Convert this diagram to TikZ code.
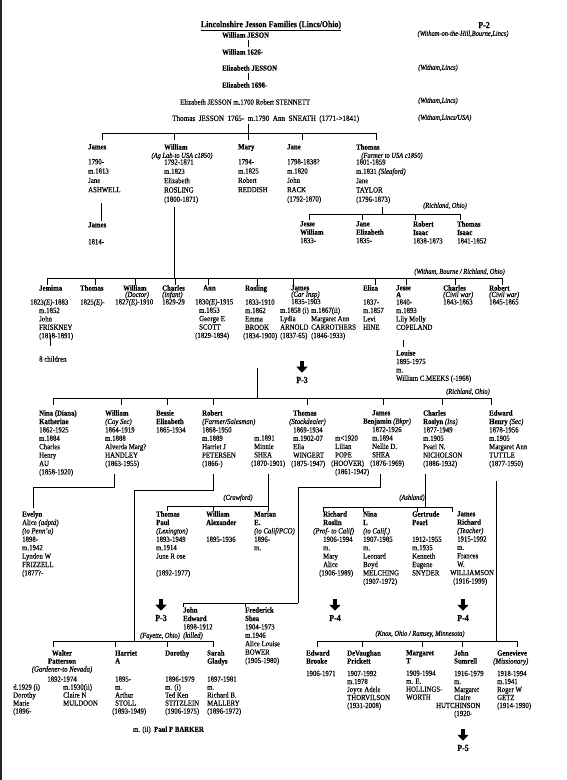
\documentclass[tikz,border=0pt]{standalone}
\usepackage{fontspec}
\setmainfont{Liberation Serif}[FakeStretch=0.87,FakeBold=0.25]
\usetikzlibrary{arrows.meta}

\begin{document}
\begin{tikzpicture}[x=1pt,y=-1pt,
  wire/.style={draw=black,line width=1pt},
  pers/.style={anchor=north west,inner sep=0pt,align=left,font=\fontsize{7.8}{8.4}\selectfont},
  perst/.style={pers,font=\fontsize{7.8}{9.3}\selectfont},
  persb/.style={pers,font=\fontsize{7.8}{8}\selectfont},
  oneline/.style={anchor=west,inner sep=0pt,font=\fontsize{7.8}{8.4}\selectfont},
  plc/.style={inner sep=0pt,font=\fontsize{7.4}{8}\selectfont\itshape},
  pref/.style={inner sep=0pt,font=\fontsize{9.2}{9}\selectfont\bfseries},
  darr/.style={line width=4.8pt,-{Triangle[width=11pt,length=6pt]}}
]
\useasboundingbox (0,0) rectangle (567,780);
\draw[line width=2pt,black!85] (1,0) -- (1,780);

% head of the page: the early generations
\node[pref,font=\fontsize{9}{9}\selectfont\bfseries] (title) at (271,26) {\underline{Lincolnshire Jesson Families (Lincs/Ohio)}};
\node[pref] (pg) at (484,25) {P-2};
\node[plc] (home) at (463,34) {(Witham-on-the-Hill,Bourne,Lincs)};
\node[oneline] (g1) at (222,35) {\textbf{William JESON}};
\node[oneline] (g2) at (222,52) {\textbf{William 1626-}};
\node[oneline] (g3) at (222,68) {\textbf{Elizabeth JESSON}};
\node[oneline] (g4) at (222,85) {\textbf{Elizabeth 1698-}};
\node[oneline] (g5) at (180,102) {Elizabeth JESSON m.1700 Robert STENNETT};
\node[oneline,font=\fontsize{8.2}{9}\selectfont] (g6) at (172,119) {\spaceskip=3.5pt Thomas JESSON 1765- m.1790 Ann SNEATH (1771->1841)};
\node[plc,anchor=west] (w3) at (418,68) {(Witham,Lincs)};
\node[plc,anchor=west] (w5) at (418,101) {(Witham,Lincs)};
\node[plc,anchor=west] (w6) at (418,118) {(Witham,Lincs/USA)};
\draw[wire,shorten <=2pt,shorten >=2pt] ([xshift=26pt]g1.south west) -- ([xshift=26pt]g2.north west);
\draw[wire,shorten <=2pt,shorten >=2pt] ([xshift=26pt]g3.south west) -- ([xshift=26pt]g4.north west);
\draw[wire,shorten <=1pt] ([xshift=76pt]g6.south west) -- (248,133);
\draw[wire] (102,133) -- (376,133);
\foreach \x in {102,174,248,302,376} \draw[wire] (\x,133) -- ++(0,7);

% children of Thomas and Ann
\node[perst] (james) at (88,144) {\textbf{James}\\[5.7pt]1790-\\m.1813\\Jane\\ASHWELL};
\node[perst] (william) at (164,144) {\textbf{William}\\[5.7pt]1792-1871\\m.1823\\Elizabeth\\ROSLING\\(1800-1871)};
\node[plc] (wjob) at (182,156) {(Ag Lab-to USA c1850)};
\node[perst] (mary) at (238,144) {\textbf{Mary}\\[5.7pt]1794-\\m.1825\\Robert\\REDDISH};
\node[perst] (jane) at (287,144) {\textbf{Jane}\\[5.7pt]1798-1838?\\m.1820\\John\\RACK\\(1792-1870)};
\node[perst] (thomas) at (356,144) {\textbf{Thomas}\\[5.7pt]1801-1859\\m.1831 \textit{(Sleaford)}\\Jane\\TAYLOR\\(1796-1873)};
\node[plc] (tjob) at (392,156) {(Farmer to USA c1850)};
\node[pers] (jamesjr) at (88,222) {\textbf{James}\\[8.6pt]1814-};
\draw[wire,shorten <=10pt,shorten >=1pt] ([xshift=13pt]james.south west) -- ([xshift=13pt]jamesjr.north west);
\draw[wire,shorten <=3pt] ([xshift=10pt]william.south west) -- (174,278);

% Thomas and Jane TAYLOR, Richland
\draw[wire,shorten <=3pt] ([xshift=26pt]thomas.south west) -- (382,214);
\draw[wire] (309,214) -- (460,214);
\foreach \x in {309,362,415,460} \draw[wire] (\x,214) -- ++(0,6);
\node[plc,anchor=east] (rich1) at (467,206) {(Richland, Ohio)};
\node[pers] (jessew) at (300,221) {\textbf{Jesse}\\\textbf{William}\\1833-};
\node[pers] (janee) at (356,221) {\textbf{Jane}\\\textbf{Elizabeth}\\1835-};
\node[pers] (roberti) at (413,221) {\textbf{Robert}\\\textbf{Isaac}\\1838-1873};
\node[pers] (thomasi) at (457,221) {\textbf{Thomas}\\\textbf{Isaac}\\1841-1852};

% children of William and Elizabeth ROSLING
\draw[wire] (47,278) -- (502,278);
\foreach \x in {47,95,135,175,208,257,293,375,406,455,502} \draw[wire] (\x,278) -- ++(0,7);
\node[plc,anchor=east] (rich2) at (505,272) {(Witham, Bourne / Richland, Ohio)};
\node[pers] (jemima) at (39,285) {\textbf{Jemima}\\[5.6pt]\hspace*{-9pt}1823\textit{(E)}-1883\\m.1852\\John\\FRISKNEY\\(1818-1891)};
\node[pers] (kids8) at (39,356) {8 children};
\draw[wire] ([xshift=11pt,yshift=5pt]jemima.south west) -- ([xshift=11pt,yshift=10pt]kids8.north west);
\node[pers] (thomas2) at (80,285) {\textbf{Thomas}\\[5.6pt]1825\textit{(E)}-};
\node[pers] (william2) at (123,285) {\textbf{William}\\[-2pt]\hspace*{2pt}\textit{(Doctor)}\\[-1pt]\hspace*{-8pt}1827\textit{(E)}-1910};
\node[pers] (charles2) at (162,285) {\textbf{Charles}\\[-2pt]\textit{(infant)}\\[-1pt]1829-29};
\node[pers] (ann) at (199,285) {\hspace*{4pt}\textbf{Ann}\\[5.6pt]\hspace*{-4pt}1830\textit{(E)}-1915\\m.1853\\George E\\SCOTT\\\hspace*{-4pt}(1829-1894)};
\node[pers] (rosling) at (245,285) {\textbf{Rosling}\\[5.6pt]1833-1910\\m.1862\\Emma\\BROOK\\\hspace*{-2pt}(1834-1900)};
\draw[wire] ([xshift=12pt,yshift=-28pt]rosling.south west) -- (257,398);
\node[pers] (james2) at (291,285) {\textbf{James}\\[-2pt]\textit{(Car Insp)}\\[-1pt]1835-1903};
\node[pers] (lydia) at (280,307.2) {m.1858 (i)\\Lydia\\ARNOLD\\(1837-65)};
\node[pers] (margaret) at (311,307.2) {m.1867(ii)\\Margaret Ann\\CARROTHERS\\(1846-1933)};
\node[pref] (p3a) at (302,380) {P-3};
\draw[darr] ([yshift=16pt]p3a.north) -- ([yshift=4pt]p3a.north);
\node[pers] (eliza) at (363,285) {\textbf{Eliza}\\[5.6pt]1837-\\m.1857\\Levi\\HINE};
\node[pers] (jesse2) at (396,285) {\textbf{Jesse}\\[-1.5pt]\textbf{A}\\[-1pt]1840-\\m.1893\\Lily Molly\\COPELAND};
\node[pers] (louise) at (396,350) {\textbf{Louise}\\1895-1975\\m.\\William C.MEEKS (-1968)};
\draw[wire] ([xshift=7pt,yshift=-10pt]jesse2.south west) -- ([xshift=7pt,yshift=3pt]louise.north west);
\node[pers] (charles2b) at (443,285) {\textbf{Charles}\\[-2pt]\textit{(Civil war)}\\[-1pt]1843-1863};
\node[pers] (robert2) at (489,285) {\textbf{Robert}\\[-2pt]\textit{(Civil war)}\\[-1pt]1845-1865};

% children of Rosling and Emma BROOK
\draw[wire] (53,398) -- (491,398);
\foreach \x in {53,121,167,213,307,383,442,491} \draw[wire] (\x,398) -- ++(0,7);
\node[plc,anchor=east] (rich3) at (490,392) {(Richland, Ohio)};
\node[pers] (nina) at (39,410) {\textbf{Nina (Diana)}\\\textbf{Katherine}\\1862-1925\\m.1884\\Charles\\Henry\\AU\\(1858-1920)};
\node[pers] (william3) at (105,410) {\textbf{William}\\\textit{(Coy Sec)}\\1864-1919\\m.1888\\Alverda Marg?\\HANDLEY\\(1863-1955)};
\node[pers] (bessie) at (156,410) {\textbf{Bessie}\\\textbf{Elizabeth}\\1865-1934};
\node[pers] (robert3) at (202,410) {\textbf{Robert}\\\textit{(Farmer/Salesman)}\\1868-1950\\m.1889\\Harriet J\\PETERSEN\\(1866-)};
\node[pers] (minnie) at (254,435.2) {m.1891\\Minnie\\SHEA\\\hspace*{-3pt}(1870-1901)};
\node[pers] (thomas3) at (293,410) {\textbf{Thomas}\\\hspace*{-4pt}\textit{(Stockdealer)}\\1869-1934\\m.1902-07\\Ella\\WINGERT\\\hspace*{-2pt}(1875-1947)};
\node[pers] (lilian) at (335,435.2) {m<1920\\Lilian\\POPE\\\hspace*{-4pt}(HOOVER)\\(1861-1942)};
\node[pers] (jamesb) at (372,410) {\textbf{James}\\\hspace*{-9pt}\textbf{Benjamin} \textit{(Bkpr)}\\1872-1926\\m.1894\\Nellie D.\\SHEA\\\hspace*{-2pt}(1876-1969)};
\node[pers] (charles3) at (423,410) {\textbf{Charles}\\\textbf{Roslyn} \textit{(Ins)}\\1877-1949\\m.1905\\Pearl N.\\NICHOLSON\\(1886-1932)};
\node[pers] (edward3) at (489,410) {\textbf{Edward}\\\textbf{Henry} \textit{(Sec)}\\1878-1956\\m.1905\\Margaret Ann\\TUTTLE\\(1877-1950)};

% grandchildren
\node[pers] (evelyn) at (22,511) {\textbf{Evelyn}\\Alice \textit{(adptd)}\\\textit{(to Penn'a)}\\1898-\\m.1942\\Lyndon W\\FRIZZELL\\(1877?-};
\draw[wire] ([xshift=9pt,yshift=-6pt]william3.south west) |- (33,487) -- ([xshift=11pt,yshift=3pt]evelyn.north west);
\draw[wire] ([xshift=11pt,yshift=-6pt]robert3.south west) |- (134,490) -- (134,641);
\draw[wire] ([xshift=14pt,yshift=-6pt]minnie.south west) -- (268,506);
\draw[wire] (167,506) -- (268,506);
\foreach \x in {167,213,268} \draw[wire] (\x,506) -- ++(0,5);
\node[plc] (craw) at (238,498) {(Crawford)};
\node[pers] (thomasp) at (156,511) {\textbf{Thomas}\\\textbf{Paul}\\\textit{(Lexington)}\\1893-1949\\m.1914\\June R ose\\[8.4pt](1892-1977)};
\node[pers] (williama) at (206,511) {\textbf{William}\\\textbf{Alexander}\\[8.4pt]1895-1936};
\node[pers] (marian) at (254,511) {\textbf{Marian}\\\textbf{E.}\\\textit{(to Calif/PCO)}\\1896-\\m.};
\node[pref] (p3b) at (161,618) {P-3};
\draw[darr] ([yshift=16pt]p3b.north) -- ([yshift=4pt]p3b.north);

\draw[wire] ([xshift=8pt,yshift=-6pt]jamesb.south west) |- (298,487) -- (298,603);
\draw[wire] (183,603) -- (298,603);
\foreach \x in {183,245} \draw[wire] (\x,603) -- ++(0,4);
\node[pers] (johne) at (183,607) {\textbf{John}\\\textbf{Edward}\\1898-1912\\\textit{(killed)}};
\node[pers] (fred) at (245,607) {\textbf{Frederick}\\\textbf{Shea}\\1904-1973\\m.1946\\Alice Louise\\BOWER\\(1905-1980)};

\draw[wire] ([xshift=2pt,yshift=-6pt]charles3.south west) -- (425,507);
\draw[wire] (323,507) -- (452,507);
\foreach \x in {323,363,417,452} \draw[wire] (\x,507) -- ++(0,5);
\node[plc] (ash) at (412,498) {(Ashland)};
\node[pers] (richard) at (323,511) {\textbf{Richard}\\\textbf{Roslin}\\\hspace*{-10pt}\textit{(Prof- to Calif)}\\1906-1994\\m.\\Mary\\Alice\\\hspace*{-4pt}(1906-1989)};
\node[pers] (ninal) at (363,511) {\textbf{Nina}\\\textbf{L}\\\textit{(to Calif.)}\\1907-1985\\m.\\Leonard\\Boyd\\MELCHING\\(1907-1972)};
\node[pers] (gertrude) at (412,511) {\textbf{Gertrude}\\\textbf{Pearl}\\[8.4pt]1912-1955\\m.1935\\Kenneth\\Eugene\\SNYDER};
\node[pers] (jamesr) at (457,511) {\textbf{James}\\\textbf{Richard}\\\textit{(Teacher)}\\1915-1992\\m.\\Frances\\W.\\\hspace*{-7pt}WILLIAMSON\\\hspace*{-4pt}(1916-1999)};
\node[pref] (p4a) at (335,618) {P-4};
\draw[darr] ([yshift=16pt]p4a.north) -- ([yshift=4pt]p4a.north);
\node[pref] (p4b) at (463,618) {P-4};
\draw[darr] ([yshift=16pt]p4b.north) -- ([yshift=4pt]p4b.north);

% children of Robert and Harriet PETERSEN, Fayette
\draw[wire] (53,641) -- (213,641);
\foreach \x in {53,115,167,213} \draw[wire] (\x,641) -- ++(0,6);
\node[plc] (fay) at (160,636) {(Fayette, Ohio)};
\node[persb,anchor=north,align=center] (walter) at (62,650) {\textbf{Walter}\\\textbf{Patterson}\\\textit{(Gardener-to Nevada)}\\[2pt]1892-1974};
\node[persb] (dorothym) at (13,684) {d.1929 (i)\\Dorothy\\Marie\\(1896-};
\node[persb] (claire) at (63,684) {m.1930(ii)\\Claire N\\MULDOON};
\node[persb] (harriet) at (115,650) {\textbf{Harriet}\\\textbf{A}\\[10pt]1895-\\m.\\Arthur\\STOLL\\\hspace*{-3pt}(1893-1949)};
\node[persb] (dorothy) at (165,650) {\textbf{Dorothy}\\[18pt]1896-1979\\m. (i)\\Ted Ken\\STITZLEIN\\(1906-1975)};
\node[persb] (sarah) at (207,650) {\textbf{Sarah}\\\textbf{Gladys}\\[10pt]1897-1981\\m.\\Richard B.\\MALLERY\\(1896-1972)};
\node[oneline] (barker) at (133,730) {m. (ii)\ \ \textbf{Paul P BARKER}};

% children of Edward and Margaret Ann TUTTLE, Knox / Ramsey
\draw[wire] ([xshift=7pt,yshift=-13pt]edward3.south west) -- (496,641);
\draw[wire] (317,641) -- (517,641);
\foreach \x in {317,362,422,462,517} \draw[wire] (\x,641) -- ++(0,6);
\node[plc] (knox) at (420,634) {(Knox, Ohio / Ramsey, Minnesota)};
\node[persb] (edwardb) at (306,650) {\textbf{Edward}\\\textbf{Brooke}\\[4.4pt]1906-1971};
\node[persb] (devaughan) at (347,650) {\textbf{DeVaughan}\\\textbf{Prickett}\\[4.4pt]1907-1992\\m.1978\\Joyce Adele\\THORVILSON\\(1931-2008)};
\node[persb] (margt) at (406,650) {\textbf{Margaret}\\\textbf{T}\\[4.4pt]1909-1994\\m. E.\\HOLLINGS-\\WORTH};
\node[persb] (johns) at (454,650) {\textbf{John}\\\textbf{Sumrell}\\[4.4pt]1916-1979\\m.\\Margaret\\Claire\\\hspace*{-18pt}HUTCHINSON\\(1920-};
\node[persb] (genev) at (497,650) {\textbf{Genevieve}\\\hspace*{-4pt}\textit{(Missionary)}\\[4.4pt]1918-1994\\m.1941\\Roger W\\GETZ\\(1914-1990)};
\node[pref] (p5) at (463,748) {P-5};
\draw[darr] ([yshift=16pt]p5.north) -- ([yshift=4pt]p5.north);
\end{tikzpicture}
\end{document}
